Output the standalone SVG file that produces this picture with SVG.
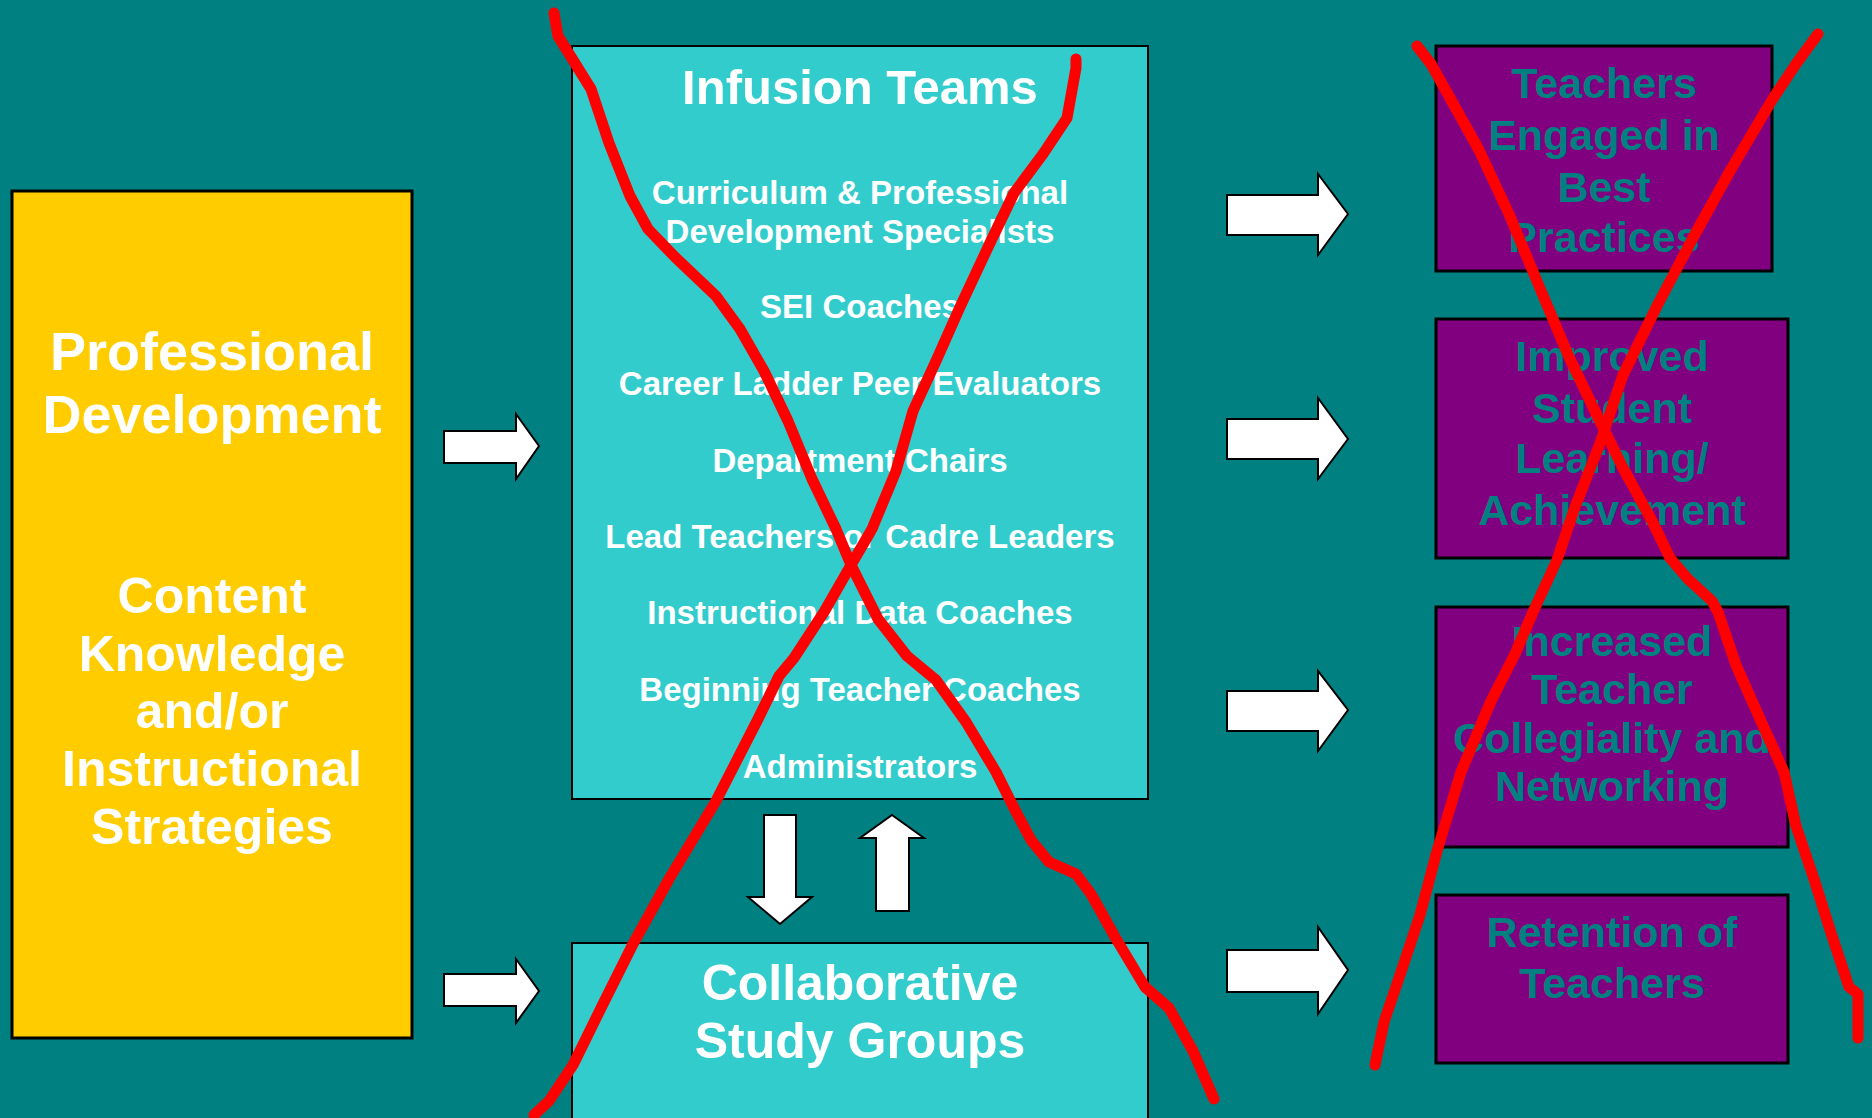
<svg xmlns="http://www.w3.org/2000/svg" width="1872" height="1118" viewBox="0 0 1872 1118">
<style>
.bg{fill:#008080}
.yel{fill:#FFCC00;stroke:#000;stroke-width:3}
.cyan{fill:#33CCCC;stroke:#000;stroke-width:2}
.pur{fill:#800080;stroke:#000;stroke-width:3}
.arr{fill:#fff;stroke:#000;stroke-width:2;stroke-linejoin:miter}
text{font-family:"Liberation Sans",Arial,sans-serif;font-weight:bold;text-anchor:middle}
.w{fill:#fff}
.t{fill:#008080}
.big{font-size:54px}
.mid{font-size:50px}
.item{font-size:33px}
.out{font-size:43px}
.x{fill:none;stroke:#FF0000;stroke-width:11;stroke-linecap:round;stroke-linejoin:round}
</style>
<rect class="bg" x="0" y="0" width="1872" height="1118"/>

<g id="professional-development">
<rect class="yel" x="12" y="191" width="400" height="847"/>
<text class="w big" x="212" y="370">Professional</text>
<text class="w big" x="212" y="433">Development</text>
<text class="w mid" x="212" y="613">Content</text>
<text class="w mid" x="212" y="671">Knowledge</text>
<text class="w mid" x="212" y="728">and/or</text>
<text class="w mid" x="212" y="786">Instructional</text>
<text class="w mid" x="212" y="844">Strategies</text>
</g>

<g id="infusion-teams">
<rect class="cyan" x="572" y="46" width="576" height="753"/>
<text class="w" style="font-size:49px" x="860" y="104">Infusion Teams</text>
<text class="w item" x="860" y="204">Curriculum &amp; Professional</text>
<text class="w item" x="860" y="243">Development Specialists</text>
<text class="w item" x="860" y="318">SEI Coaches</text>
<text class="w item" x="860" y="395">Career Ladder Peer Evaluators</text>
<text class="w item" x="860" y="472">Department Chairs</text>
<text class="w item" x="860" y="548">Lead Teachers or Cadre Leaders</text>
<text class="w item" x="860" y="624">Instructional Data Coaches</text>
<text class="w item" x="860" y="701">Beginning Teacher Coaches</text>
<text class="w item" x="860" y="778">Administrators</text>
</g>

<g id="collaborative-study-groups">
<rect class="cyan" x="572" y="943" width="576" height="190"/>
<text class="w mid" x="860" y="1000">Collaborative</text>
<text class="w mid" x="860" y="1058">Study Groups</text>
</g>

<g id="teachers-engaged">
<rect class="pur" x="1436" y="46" width="336" height="225"/>
<text class="t out" x="1604" y="98">Teachers</text>
<text class="t out" x="1604" y="150">Engaged in</text>
<text class="t out" x="1604" y="202">Best</text>
<text class="t out" x="1604" y="252">Practices</text>
</g>

<g id="improved-learning">
<rect class="pur" x="1436" y="319" width="352" height="239"/>
<text class="t out" x="1612" y="371">Improved</text>
<text class="t out" x="1612" y="423">Student</text>
<text class="t out" x="1612" y="473">Learning/</text>
<text class="t out" x="1612" y="525">Achievement</text>
</g>

<g id="increased-collegiality">
<rect class="pur" x="1436" y="607" width="352" height="240"/>
<text class="t out" x="1612" y="656">Increased</text>
<text class="t out" x="1612" y="704">Teacher</text>
<text class="t out" x="1612" y="753">Collegiality and</text>
<text class="t out" x="1612" y="801">Networking</text>
</g>

<g id="retention">
<rect class="pur" x="1436" y="895" width="352" height="168"/>
<text class="t out" x="1612" y="947">Retention of</text>
<text class="t out" x="1612" y="998">Teachers</text>
</g>

<g id="connectors">
<polygon class="arr" points="444,431 516,431 516,414 539,446 516,479 516,463 444,463"/>
<polygon class="arr" points="444,974 516,974 516,959 539,991 516,1023 516,1006 444,1006"/>
<polygon class="arr" points="764,815 796,815 796,897 812,897 780,924 748,897 764,897"/>
<polygon class="arr" points="892,815 924,838 909,838 909,911 876,911 876,838 860,838"/>
<polygon class="arr" points="1227,195 1318,195 1318,174 1348,214 1318,255 1318,235 1227,235"/>
<polygon class="arr" points="1227,419 1318,419 1318,398 1348,439 1318,479 1318,459 1227,459"/>
<polygon class="arr" points="1227,691 1318,691 1318,671 1348,710 1318,751 1318,731 1227,731"/>
<polygon class="arr" points="1227,950 1318,950 1318,927 1348,970 1318,1014 1318,992 1227,992"/>
</g>

<g id="red-crosses">
<polyline class="x" points="554,13 558,36 591,89 609,143 630,196 648,229 675,257 716,296 740,329 764,371 788,421 812,479 836,529 851,565 878,619 907,656 936,680 966,722 996,772 1014,808 1031,840 1049,862 1076,874 1091,894 1115,937 1145,987 1169,1008 1193,1051 1214,1099"/>
<polyline class="x" points="1076,59 1076,68 1067,118 1043,154 1014,193 990,243 960,307 936,361 913,411 896,471 872,529 851,565 824,612 794,658 779,676 758,719 716,801 669,879 633,944 603,1004 573,1065 549,1101 534,1115"/>
<polyline class="x" points="1417,46 1431,64 1455,107 1479,150 1509,214 1539,286 1569,357 1593,407 1623,468 1652,521 1670,558 1688,579 1712,601 1718,612 1736,665 1760,719 1784,772 1796,826 1814,879 1831,933 1849,987 1858,994 1858,1038"/>
<polyline class="x" points="1818,34 1796,64 1772,100 1730,171 1694,236 1658,304 1623,375 1599,446 1575,507 1557,560 1533,612 1515,654 1491,701 1461,772 1437,851 1420,915 1402,969 1384,1022 1375,1065"/>
</g>
</svg>
